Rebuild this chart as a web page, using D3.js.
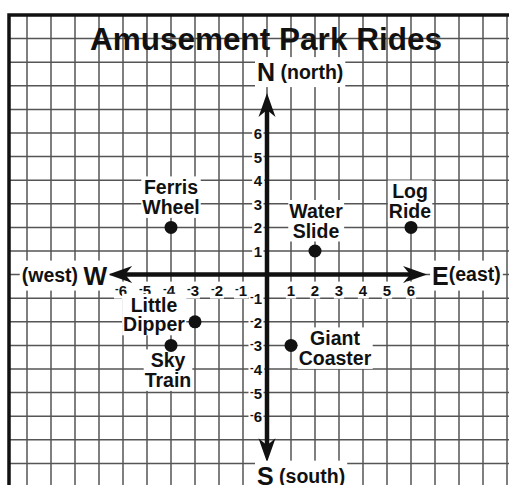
<!DOCTYPE html>
<html>
<head>
<meta charset="utf-8">
<script src="https://cdn.jsdelivr.net/npm/d3@7"></script>
<style>
  body { margin: 0; background: #fff; }
  svg { display: block; }
  text { font-family: "Liberation Sans", Arial, Helvetica, sans-serif; font-weight: bold; fill: #111; }
</style>
</head>
<body>
<svg id="chart"></svg>
<script>
const width = 509,
  height = 485,
  gridColor = '#555',
  inkColor = '#111'

// data
const rideNames = ['Ferris Wheel', 'Water Slide', 'Log Ride', 'Little Dipper', 'Sky Train', 'Giant Coaster']
const rideX = [-4, 2, 6, -3, -4, 1]
const rideY = [2, 1, 2, -2, -3, -3]
const tickValues = [-6, -5, -4, -3, -2, -1, 1, 2, 3, 4, 5, 6]
const directions = ['N', 'S', 'E', 'W']
const directionWords = ['(north)', '(south)', '(east)', '(west)']

// label placement around each dot, in pixels [dx of line centre, dy of first baseline]
const labelOffsets = [[0, -33], [1, -33], [-1, -29], [-41, -10], [-3, 22], [44, 0]]

const svg = d3.select('#chart')
  .attr('width', width)
  .attr('height', height)

const x = d3.scaleLinear().domain([-11, 10]).range([3, 507])
const y = d3.scaleLinear().domain([-9, 11]).range([487, 15])

const gridLeft = x(-10.75),
  gridTop = y(11)

// grid
const grid = svg.append('g').attr('class', 'grid')
grid.selectAll('.vline')
  .data(d3.range(-10, 11))
  .enter().append('line')
  .attr('x1', d => x(d)).attr('x2', d => x(d))
  .attr('y1', gridTop).attr('y2', height)
  .attr('stroke', gridColor).attr('stroke-width', 1.5)
grid.selectAll('.hline')
  .data(d3.range(-8, 11))
  .enter().append('line')
  .attr('y1', d => y(d)).attr('y2', d => y(d))
  .attr('x1', gridLeft).attr('x2', width)
  .attr('stroke', gridColor).attr('stroke-width', 1.5)

// frame (top and left only, the rest is cropped)
svg.append('path')
  .attr('d', `M${gridLeft},${height}V${gridTop}H${width}`)
  .attr('fill', 'none')
  .attr('stroke', inkColor)
  .attr('stroke-width', 3.5)

// title
svg.append('text')
  .attr('x', 266).attr('y', 50)
  .attr('text-anchor', 'middle')
  .style('font-size', '31.5px')
  .text('Amusement Park Rides')

function boxBehind(sel, pad) {
  const b = sel.node().getBBox()
  sel.node().parentNode.insertBefore(document.createElementNS('http://www.w3.org/2000/svg', 'rect'), sel.node())
  d3.select(sel.node().previousSibling)
    .attr('x', b.x - pad).attr('y', b.y - pad + 1)
    .attr('width', b.width + pad * 2).attr('height', b.height + pad * 2 - 2)
    .attr('fill', '#fff')
}

// axes with arrow heads
const axes = svg.append('g').attr('class', 'axes')
const xEnds = [-6.62, 6.67], yEnds = [-7.95, 7.7]

function arrowHead(tx, ty, dx, dy) {
  const L = 24, W = 8.5, notch = 17
  const px = -dy, py = dx
  return `M${tx},${ty}L${tx - dx * L + px * W},${ty - dy * L + py * W}` +
    `L${tx - dx * notch},${ty - dy * notch}` +
    `L${tx - dx * L - px * W},${ty - dy * L - py * W}Z`
}

axes.append('line')
  .attr('x1', x(xEnds[0]) + 12).attr('x2', x(xEnds[1]) - 12)
  .attr('y1', y(0)).attr('y2', y(0))
  .attr('stroke', inkColor).attr('stroke-width', 4.5)
axes.append('line')
  .attr('y1', y(yEnds[0]) - 12).attr('y2', y(yEnds[1]) + 12)
  .attr('x1', x(0)).attr('x2', x(0))
  .attr('stroke', inkColor).attr('stroke-width', 4.5)
axes.selectAll('.head')
  .data([
    [x(xEnds[0]), y(0), -1, 0],
    [x(xEnds[1]), y(0), 1, 0],
    [x(0), y(yEnds[1]), 0, -1],
    [x(0), y(yEnds[0]), 0, 1]
  ])
  .enter().append('path')
  .attr('d', d => arrowHead(...d))
  .attr('fill', inkColor)

// tick labels, with the raised minus
function tickText(sel, v) {
  if (v < 0) {
    sel.append('tspan').attr('dy', -4).style('font-size', '11px').text('-')
    sel.append('tspan').attr('dy', 4).text(Math.abs(v))
  } else {
    sel.text(v)
  }
}

const ticks = svg.append('g').attr('class', 'ticks').style('font-size', '15px')
tickValues.forEach(v => {
  const tx = ticks.append('g')
  const t = tx.append('text')
    .attr('x', x(v) + (v < 0 ? -2 : 0)).attr('y', y(0) + 21)
    .attr('text-anchor', 'middle')
  tickText(t, v)
  boxBehind(t, 1)

  const ty = ticks.append('g')
  const t2 = ty.append('text')
    .attr('x', x(0) - 5).attr('y', y(v) + 6)
    .attr('text-anchor', 'end')
  tickText(t2, v)
  boxBehind(t2, 1.5)
})

// compass labels
const compass = svg.append('g').attr('class', 'compass')
const compassPos = {
  N: { x: x(0) - 10, y: y(8.2), anchor: 'start', letterFirst: true },
  S: { x: x(0) - 10, y: y(-8.9), anchor: 'start', letterFirst: true },
  E: { x: x(xEnds[1]) + 5, y: y(0) + 10, anchor: 'start', letterFirst: true },
  W: { x: x(xEnds[0]) - 1, y: y(0) + 10, anchor: 'end', letterFirst: false }
}
directions.forEach((dName, i) => {
  const p = compassPos[dName]
  const t = compass.append('g').append('text')
    .attr('x', p.x).attr('y', p.y)
    .attr('text-anchor', p.anchor)
  const letter = () => t.append('tspan').style('font-size', '25px').text(dName)
  const word = (dy) => t.append('tspan').style('font-size', '19.5px').attr('dy', dy).text(directionWords[i])
  if (p.letterFirst) {
    letter()
    t.append('tspan').style('font-size', '19.5px').text(dName === 'E' ? '' : ' ')
    word(dName === 'E' ? -4 : -2)
  } else {
    word(-3)
    t.append('tspan').style('font-size', '19.5px').text(' ')
    t.append('tspan').style('font-size', '25px').attr('dy', 3).text(dName)
  }
  boxBehind(t, 2)
})

// ride points and labels
const rides = svg.append('g').attr('class', 'rides')
rideNames.forEach((name, i) => {
  const cx = x(rideX[i]), cy = y(rideY[i])
  const off = labelOffsets[i]
  const t = rides.append('g').append('text')
    .attr('text-anchor', 'middle')
    .style('font-size', '19.5px')
  name.split(' ').forEach((word, k) => {
    t.append('tspan')
      .attr('x', cx + off[0])
      .attr('y', cy + off[1] + k * 19.5)
      .text(word)
  })
  boxBehind(t, 1)
})
rides.selectAll('circle')
  .data(rideNames)
  .enter().append('circle')
  .attr('cx', (d, i) => x(rideX[i]))
  .attr('cy', (d, i) => y(rideY[i]))
  .attr('r', 6.5)
  .attr('fill', inkColor)
</script>
</body>
</html>
